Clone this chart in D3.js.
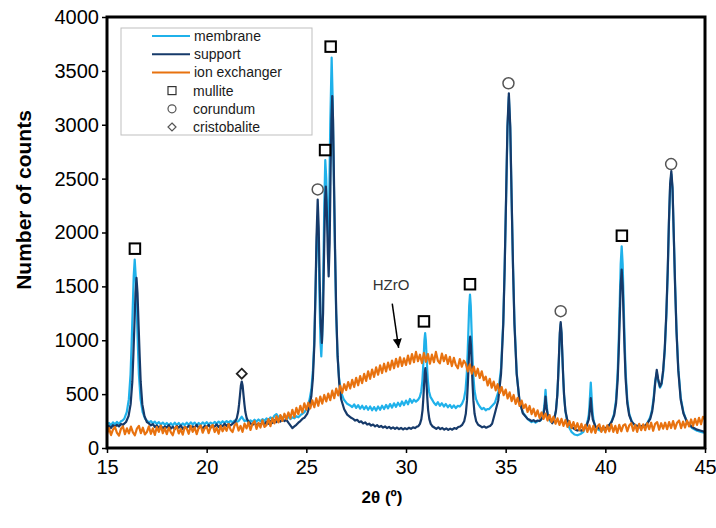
<!DOCTYPE html>
<html>
<head>
<meta charset="utf-8">
<script src="https://cdn.jsdelivr.net/npm/d3@7"></script>
<style>
  body { margin: 0; background: #fff; }
  svg { display: block; }
  text { font-family: "Liberation Sans", Arial, Helvetica, sans-serif; }
</style>
</head>
<body>
<svg id="chart" width="716" height="528"></svg>
<script>
// XRD patterns: [2θ (°), counts]
const membrane = [
  [15.0,215],[15.1,232],[15.2,210],[15.3,238],[15.4,218],[15.5,242],[15.6,222],[15.7,248],[15.78,255],
  [15.865,271],[15.991,332],[16.096,453],[16.18,682],[16.23,941],[16.285,1261],[16.34,1596],[16.39,1748],
  [16.44,1596],[16.495,1261],[16.55,941],[16.6,682],[16.684,453],[16.789,332],[16.915,271],
  [17.0,255],[17.1,238],[17.2,250],[17.3,228],[17.4,245],[17.5,222],[17.6,240],[17.7,218],[17.8,236],[17.9,215],
  [18.0,232],[18.1,212],[18.2,230],[18.3,210],[18.4,235],[18.5,214],[18.6,232],[18.7,208],[18.8,228],[18.9,212],
  [19.0,235],[19.1,215],[19.2,238],[19.3,218],[19.4,236],[19.5,212],[19.6,232],[19.7,215],[19.8,238],[19.9,220],
  [20.0,240],[20.1,218],[20.2,236],[20.3,222],[20.4,242],[20.5,225],[20.6,245],[20.7,228],[20.8,248],[20.9,232],
  [21.0,250],[21.1,235],[21.2,252],[21.3,238],[21.4,255],[21.5,240],[21.6,250],[21.7,275],[21.76,290],[21.82,272],
  [21.9,250],[22.0,258],[22.1,240],[22.2,256],[22.3,242],[22.4,262],[22.5,245],[22.6,265],[22.7,248],[22.8,268],
  [22.9,252],[23.0,275],[23.1,258],[23.2,285],[23.3,268],[23.4,300],[23.5,315],[23.6,285],[23.7,300],[23.8,278],
  [23.9,295],[24.0,272],[24.1,290],[24.2,268],[24.3,285],[24.4,275],[24.5,295],[24.6,285],[24.7,305],[24.8,318],
  [24.9,330],[25.05,380],[25.15,440],[25.25,540],[25.33,720],[25.4,1000],[25.46,1450],[25.51,1850],[25.57,2150],
  [25.62,1850],[25.67,1300],[25.71,980],[25.75,849],[25.8,1050],[25.85,1600],[25.9,2250],[25.95,2672],[26.0,2500],
  [26.05,2150],[26.1,1950],[26.15,2350],[26.2,3000],[26.27,3624],[26.32,3250],[26.37,2600],[26.43,1900],
  [26.49,1300],[26.56,880],[26.64,650],[26.74,520],[26.88,450],[27.05,410],[27.2,395],
  [27.3,380],[27.4,405],[27.5,372],[27.6,398],[27.7,365],[27.8,392],[27.9,360],[28.0,388],[28.1,355],[28.2,385],
  [28.3,350],[28.4,380],[28.5,348],[28.6,385],[28.7,355],[28.8,392],[28.9,362],[29.0,400],[29.1,368],[29.2,408],
  [29.3,375],[29.4,415],[29.5,382],[29.6,420],[29.7,390],[29.8,432],[29.9,398],[30.0,440],[30.1,405],[30.2,455],
  [30.3,420],[30.4,448],[30.5,430],
  [30.61,449],[30.694,475],[30.764,525],[30.82,621],[30.855,729],[30.89,862],[30.925,1002],[30.96,1066],
  [30.995,1002],[31.03,862],[31.065,729],[31.1,621],[31.156,525],[31.226,475],[31.31,449],
  [31.4,420],[31.5,398],[31.6,425],[31.7,392],[31.8,415],[31.9,385],[32.0,408],[32.1,378],[32.2,400],[32.3,372],
  [32.4,395],[32.5,370],[32.6,392],[32.7,385],
  [32.81,411],[32.906,453],[32.986,536],[33.05,693],[33.09,870],[33.13,1089],[33.17,1319],[33.21,1423],
  [33.25,1319],[33.29,1089],[33.33,870],[33.37,693],[33.434,536],[33.514,453],[33.61,411],
  [33.7,385],[33.8,360],[33.9,372],[34.0,350],[34.08,362],
  [34.16,360],[34.46,420],[34.628,520],[34.768,740],[34.88,1180],[34.95,1680],[35.02,2300],[35.09,2960],
  [35.16,3260],[35.23,2960],[35.3,2300],[35.37,1680],[35.44,1180],[35.552,700],[35.692,430],[35.86,330],[36.1,270],
  [36.2,255],[36.3,240],[36.4,250],[36.5,235],[36.6,248],
  [36.75,255],[36.84,285],[36.9,340],[36.94,390],[36.97,460],[37.0,540],[37.03,460],[37.06,390],[37.1,330],
  [37.16,275],[37.25,245],[37.3,240],
  [37.335,235],[37.437,273],[37.522,347],[37.59,490],[37.6325,651],[37.675,849],[37.7175,1054],[37.76,1150],
  [37.8025,1054],[37.845,849],[37.8875,651],[37.93,490],[37.998,340],[38.083,250],[38.185,190],
  [38.3,150],[38.45,125],[38.6,118],[38.75,130],[38.9,150],
  [38.95,175],[39.05,200],[39.12,260],[39.17,310],[39.2,380],[39.23,480],[39.27,607],[39.31,480],[39.34,380],
  [39.37,310],[39.42,250],[39.5,195],[39.6,175],
  [39.7,165],[39.8,158],[39.9,172],[40.0,168],[40.1,185],[40.2,205],
  [40.32,250],[40.44,317],[40.54,451],[40.62,702],[40.67,986],[40.72,1337],[40.77,1705],[40.82,1872],
  [40.87,1705],[40.92,1337],[40.97,986],[41.02,702],[41.1,451],[41.2,317],[41.32,250],
  [41.42,222],[41.52,205],[41.62,200],[41.72,190],[41.82,200],[41.92,195],[42.02,210],
  [42.1,230],[42.25,285],[42.35,360],[42.43,480],[42.5,620],[42.58,700],[42.65,620],[42.74,560],[42.82,590],
  [42.9,700],[42.98,900],[43.06,1220],[43.13,1620],[43.19,2080],[43.25,2420],[43.31,2540],[43.37,2400],
  [43.43,2000],[43.5,1520],[43.57,1100],[43.66,740],[43.78,470],[43.92,330],[44.1,240],[44.35,185],[44.6,160],
  [44.8,150],[45.0,140]
];

const support = [
  [15.0,190],[15.1,205],[15.2,185],[15.3,212],[15.4,198],[15.5,215],[15.6,200],[15.7,222],[15.8,215],
  [15.955,241],[16.081,296],[16.186,407],[16.27,613],[16.32,848],[16.375,1137],[16.43,1440],[16.48,1578],
  [16.53,1440],[16.585,1137],[16.64,848],[16.69,613],[16.77,407],[16.88,296],[17.0,241],
  [17.1,228],[17.2,210],[17.3,222],[17.4,195],[17.5,210],[17.6,188],[17.7,205],[17.8,182],[17.9,200],
  [18.0,190],[18.1,212],[18.2,180],[18.3,198],[18.4,175],[18.5,205],[18.6,188],[18.7,210],[18.8,178],[18.9,195],
  [19.0,185],[19.1,208],[19.2,182],[19.3,200],[19.4,190],[19.5,214],[19.6,186],[19.7,202],[19.8,180],[19.9,205],
  [20.0,192],[20.1,215],[20.2,190],[20.3,205],[20.4,198],[20.5,220],[20.6,195],[20.7,212],[20.8,200],[20.9,225],
  [21.0,205],[21.1,222],[21.2,210],
  [21.31,227],[21.42,243],[21.51,275],[21.58,336],[21.625,404],[21.67,488],[21.715,577],[21.76,617],
  [21.805,577],[21.85,488],[21.895,404],[21.94,336],[22.01,275],[22.1,243],[22.21,227],
  [22.3,215],[22.4,232],[22.5,210],[22.6,228],[22.7,215],[22.8,238],[22.9,220],[23.0,245],[23.1,225],[23.2,250],
  [23.3,232],[23.4,258],[23.5,240],[23.6,262],[23.7,245],[23.8,270],[23.9,250],[24.0,262],[24.1,235],[24.2,210],
  [24.3,185],[24.4,200],[24.5,215],[24.6,235],[24.7,250],[24.8,270],
  [24.9,280],[25.05,320],[25.15,380],[25.25,480],[25.33,650],[25.4,950],[25.46,1450],[25.51,1950],[25.57,2306],
  [25.62,2050],[25.67,1550],[25.72,1150],[25.78,976],[25.84,1250],[25.89,1800],[25.94,2300],[25.98,2427],
  [26.03,2200],[26.08,1800],[26.12,1593],[26.17,1900],[26.22,2600],[26.26,3050],[26.3,3267],[26.34,3050],
  [26.39,2450],[26.44,1850],[26.5,1250],[26.57,850],[26.65,600],[26.75,450],[26.9,360],[27.05,310],[27.25,280],
  [27.35,270],[27.45,255],[27.55,262],[27.65,240],[27.75,248],[27.85,228],[27.95,238],[28.05,218],[28.15,226],
  [28.25,208],[28.35,218],[28.45,200],[28.55,212],[28.65,195],[28.75,205],[28.85,190],[28.95,200],[29.05,185],
  [29.15,196],[29.25,180],[29.35,192],[29.45,178],[29.55,190],[29.65,175],[29.75,186],[29.85,172],[29.95,184],
  [30.05,175],[30.15,188],[30.25,178],[30.35,192],[30.45,185],[30.55,198],
  [30.62,202],[30.7,224],[30.77,268],[30.83,352],[30.865,446],[30.9,563],[30.935,685],[30.97,741],
  [31.005,685],[31.04,563],[31.075,446],[31.11,352],[31.17,268],[31.24,224],[31.32,202],
  [31.42,190],[31.52,178],[31.62,192],[31.72,175],[31.82,186],[31.92,170],[32.02,182],[32.12,168],[32.22,180],
  [32.32,170],[32.42,185],[32.52,178],[32.62,195],[32.72,200],
  [32.82,215],[32.92,249],[33.0,317],[33.06,444],[33.1,587],[33.14,765],[33.18,951],[33.22,1035],
  [33.26,951],[33.3,765],[33.34,587],[33.38,444],[33.44,317],[33.52,249],[33.62,215],
  [33.72,205],[33.82,192],[33.92,200],[34.02,188],[34.12,198],[34.22,205],[34.32,225],
  [34.46,322],[34.628,444],[34.768,689],[34.88,1149],[34.95,1669],[35.02,2312],[35.09,2986],[35.16,3292],
  [35.23,2986],[35.3,2312],[35.37,1669],[35.44,1149],[35.552,689],[35.692,444],[35.86,322],[36.1,270],
  [36.2,262],[36.3,250],[36.4,258],[36.5,245],[36.6,255],[36.7,250],
  [36.75,260],[36.84,280],[36.9,320],[36.94,357],[36.97,410],[37.0,477],[37.03,410],[37.06,357],[37.1,320],
  [37.16,280],[37.25,260],[37.3,252],
  [37.335,229],[37.437,268],[37.522,345],[37.59,491],[37.6325,655],[37.675,859],[37.7175,1072],[37.76,1169],
  [37.8025,1072],[37.845,859],[37.8875,655],[37.93,491],[37.998,345],[38.083,268],[38.185,229],
  [38.3,200],[38.4,182],[38.5,170],[38.6,162],[38.7,168],[38.8,160],[38.9,175],
  [38.95,190],[39.05,200],[39.12,240],[39.17,265],[39.2,310],[39.23,370],[39.27,462],[39.31,370],[39.34,310],
  [39.37,265],[39.42,240],[39.5,200],[39.6,190],
  [39.7,182],[39.8,176],[39.9,190],[40.0,182],[40.1,198],[40.2,215],
  [40.32,244],[40.44,302],[40.54,418],[40.62,637],[40.67,884],[40.72,1189],[40.77,1510],[40.82,1655],
  [40.87,1510],[40.92,1189],[40.97,884],[41.02,637],[41.1,418],[41.2,302],[41.32,244],
  [41.42,225],[41.52,210],[41.62,205],[41.72,196],[41.82,205],[41.92,198],[42.02,212],
  [42.1,225],[42.25,270],[42.35,340],[42.43,450],[42.5,600],[42.58,725],[42.65,640],[42.74,570],[42.82,600],
  [42.9,720],[42.98,920],[43.06,1250],[43.13,1650],[43.19,2100],[43.25,2450],[43.31,2570],[43.37,2420],
  [43.43,2000],[43.5,1500],[43.57,1080],[43.66,720],[43.78,450],[43.92,320],[44.1,240],[44.35,195],[44.6,170],
  [44.8,160],[45.0,150]
];

// ion exchanger: counts every 0.1° from 15° to 45°
const ionStart = 15;
const ionStep = 0.1;
const ionExchanger = [
  130,185,120,170,195,140,115,178,200,128,
  182,135,198,145,118,180,205,138,188,126,
  148,200,132,182,122,195,150,208,138,185,
  128,190,148,118,182,200,135,176,124,195,
  180,132,205,150,192,128,186,210,142,182,
  200,138,192,215,148,188,132,206,155,198,
  160,222,170,148,210,230,162,205,150,226,
  182,238,168,226,250,178,232,190,258,195,
  212,268,202,278,228,295,238,305,252,318,
  268,330,275,355,288,372,315,392,330,415,
  355,420,368,442,378,462,392,478,412,492,
  432,505,444,532,462,552,488,578,512,592,
  538,612,552,632,566,652,582,668,602,688,
  622,712,642,728,660,748,680,768,696,782,
  710,792,726,812,740,828,755,842,762,832,
  770,858,782,872,796,892,806,866,788,882,
  800,872,782,866,796,892,810,786,876,806,
  862,780,846,760,836,770,740,826,755,810,
  782,710,776,690,756,670,736,650,712,630,
  662,580,642,560,616,535,592,510,566,490,
  542,460,516,435,492,410,466,390,440,370,
  405,335,390,315,365,295,350,280,330,270,
  320,255,305,240,290,225,275,215,270,205,
  260,195,250,185,240,175,230,165,225,160,
  215,150,210,145,205,140,200,220,150,205,
  145,210,155,220,150,205,140,215,155,210,
  220,155,210,230,160,215,150,225,165,220,
  165,230,175,235,160,225,240,170,230,180,
  235,175,240,185,250,180,235,255,185,245,
  190,255,200,265,205,270,215,280,220,290,
  265
];

// phase identification marks [2θ, counts]
const mullite = [[16.40,1850],[25.94,2765],[26.22,3725],[30.90,1175],[33.21,1520],[40.83,1970]];
const corundum = [[25.57,2400],[35.14,3385],[37.76,1270],[43.30,2635]];
const cristobalite = [[21.76,690]];

const hzroLabel = { text: "HZrO", x: 29.25, y: 1470 };
const hzroArrow = { from: [29.31, 1340], to: [29.63, 930] };

const xTicks = [15, 20, 25, 30, 35, 40, 45];
const yTicks = [0, 500, 1000, 1500, 2000, 2500, 3000, 3500, 4000];

const seriesNames = ["membrane", "support", "ion exchanger"];
const seriesColors = ["#1fb1ea", "#163a6a", "#e8720f"];
const markerNames = ["mullite", "corundum", "cristobalite"];

const W = 716, H = 528;
const margin = { top: 17, right: 11, bottom: 80, left: 107 };
const iw = W - margin.left - margin.right;
const ih = H - margin.top - margin.bottom;

const svg = d3.select("#chart");
const defs = svg.append("defs");
const g = svg.append("g").attr("transform", `translate(${margin.left},${margin.top})`);

const x = d3.scaleLinear().domain([15, 45]).range([0, iw]);
const y = d3.scaleLinear().domain([0, 4000]).range([ih, 0]);

defs.append("clipPath").attr("id", "plotClip")
  .append("rect").attr("width", iw).attr("height", ih);

const ionPoints = ionExchanger.map((v, i) => [ionStart + i * ionStep, v]);

const line = d3.line().x(d => x(d[0])).y(d => y(d[1]));

const plot = g.append("g").attr("clip-path", "url(#plotClip)");
[membrane, support, ionPoints].forEach((data, i) => {
  plot.append("path")
    .datum(data)
    .attr("fill", "none")
    .attr("stroke", seriesColors[i])
    .attr("stroke-width", 2.2)
    .attr("stroke-linejoin", "round")
    .attr("d", line);
});

// frame
g.append("rect").attr("width", iw).attr("height", ih)
  .attr("fill", "none").attr("stroke", "#000").attr("stroke-width", 3);

// axes
const fmt = d3.format("d");
const xAxis = g.append("g").attr("transform", `translate(0,${ih})`)
  .call(d3.axisBottom(x).tickValues(xTicks).tickFormat(fmt).tickSize(5).tickPadding(7));
const yAxis = g.append("g")
  .call(d3.axisLeft(y).tickValues(yTicks).tickFormat(fmt).tickSize(5).tickPadding(3));
[xAxis, yAxis].forEach(a => {
  a.select(".domain").remove();
  a.selectAll(".tick line").attr("stroke", "#000").attr("stroke-width", 1.5);
  a.selectAll(".tick text").attr("fill", "#000").style("font-size", "20px")
    .style("font-family", '"Liberation Sans", Arial, sans-serif');
});

// axis titles
svg.append("text").attr("x", 382).attr("y", 503)
  .attr("text-anchor", "middle").style("font-size", "17px").style("font-weight", "bold")
  .text("2θ (º)");
svg.append("text").attr("transform", `translate(31,200) rotate(-90)`)
  .attr("text-anchor", "middle").style("font-size", "21px").style("font-weight", "bold")
  .text("Number of counts");

// phase marks
const sq = 10.5;
g.selectAll(".mullite").data(mullite).join("rect").attr("class", "mullite")
  .attr("x", d => x(d[0]) - sq / 2).attr("y", d => y(d[1]) - sq / 2)
  .attr("width", sq).attr("height", sq)
  .attr("fill", "#fff").attr("stroke", "#000").attr("stroke-width", 2);
g.selectAll(".corundum").data(corundum).join("circle").attr("class", "corundum")
  .attr("cx", d => x(d[0])).attr("cy", d => y(d[1])).attr("r", 5.5)
  .attr("fill", "#fff").attr("stroke", "#555").attr("stroke-width", 1.5);
g.selectAll(".cristobalite").data(cristobalite).join("path").attr("class", "cristobalite")
  .attr("transform", d => `translate(${x(d[0])},${y(d[1])})`)
  .attr("d", "M0,-5L5,0L0,5L-5,0Z")
  .attr("fill", "#fff").attr("stroke", "#222").attr("stroke-width", 1.8);

// HZrO annotation
g.append("text").attr("x", x(hzroLabel.x)).attr("y", y(hzroLabel.y))
  .attr("text-anchor", "middle").attr("fill", "#333").style("font-size", "15px")
  .text(hzroLabel.text);
defs.append("marker").attr("id", "arrowHead")
  .attr("viewBox", "0 0 10 10").attr("refX", 10).attr("refY", 5)
  .attr("markerWidth", 9).attr("markerHeight", 9).attr("markerUnits", "userSpaceOnUse")
  .attr("orient", "auto")
  .append("path").attr("d", "M0,0L10,5L0,10Z").attr("fill", "#000");
g.append("line")
  .attr("x1", x(hzroArrow.from[0])).attr("y1", y(hzroArrow.from[1]))
  .attr("x2", x(hzroArrow.to[0])).attr("y2", y(hzroArrow.to[1]))
  .attr("stroke", "#000").attr("stroke-width", 1.5).attr("marker-end", "url(#arrowHead)");

// legend
const lg = svg.append("g").attr("transform", "translate(121,28)");
lg.append("rect").attr("width", 191).attr("height", 107)
  .attr("fill", "#fff").attr("stroke", "#bfbfbf").attr("stroke-width", 1);
const rowY = i => 8 + i * 18.2;
seriesNames.forEach((name, i) => {
  lg.append("line").attr("x1", 31).attr("x2", 69).attr("y1", rowY(i)).attr("y2", rowY(i))
    .attr("stroke", seriesColors[i]).attr("stroke-width", 2);
  lg.append("text").attr("x", 73).attr("y", rowY(i) + 5).style("font-size", "14px")
    .attr("fill", "#1a1a1a").text(name);
});
markerNames.forEach((name, j) => {
  const i = j + 3, cy = rowY(i), cx = 51;
  if (j === 0) {
    lg.append("rect").attr("x", cx - 4).attr("y", cy - 4).attr("width", 8).attr("height", 8)
      .attr("fill", "#fff").attr("stroke", "#333").attr("stroke-width", 1.2);
  } else if (j === 1) {
    lg.append("circle").attr("cx", cx).attr("cy", cy).attr("r", 4)
      .attr("fill", "#fff").attr("stroke", "#555").attr("stroke-width", 1.2);
  } else {
    lg.append("path").attr("transform", `translate(${cx},${cy})`).attr("d", "M0,-4L4,0L0,4L-4,0Z")
      .attr("fill", "#fff").attr("stroke", "#555").attr("stroke-width", 1.2);
  }
  lg.append("text").attr("x", 72).attr("y", cy + 5).style("font-size", "14px")
    .attr("fill", "#1a1a1a").text(name);
});
</script>
</body>
</html>
